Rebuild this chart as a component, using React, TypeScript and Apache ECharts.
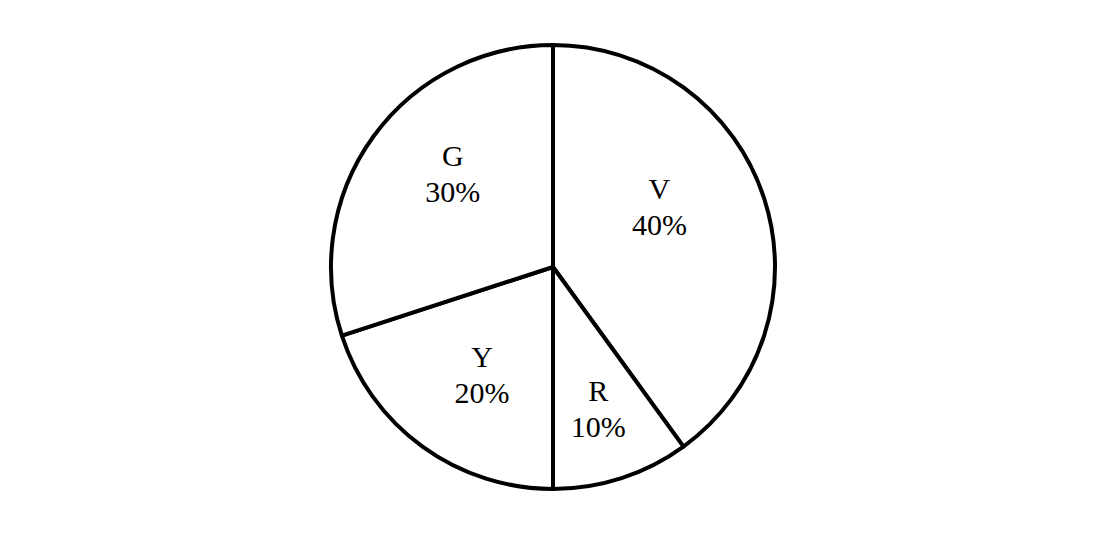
import React, { useEffect, useRef } from "react";
import * as echarts from "echarts";

const categories = ["V", "R", "Y", "G"];
const values = [40, 10, 20, 30];

// label nudges (px) relative to ECharts' inside label position
const labelNudges: [number, number][] = [
  [-2, -25],
  [10, 33],
  [-4, 15],
  [-8, -26],
];

export default function App() {
  const ref = useRef<HTMLDivElement>(null);
  useEffect(() => {
    if (!ref.current) return;
    const chart = echarts.init(ref.current, undefined, { renderer: "svg" });
    chart.setOption({
      animation: false,
      backgroundColor: "#ffffff",
      series: [
        {
          type: "pie",
          center: [553, 267],
          radius: 222,
          startAngle: 90,
          clockwise: true,
          silent: true,
          data: categories.map((c, i) => ({ name: c, value: values[i] })),
          itemStyle: {
            color: "#ffffff",
            borderColor: "#000000",
            borderWidth: 4,
          },
          label: {
            show: true,
            position: "inside",
            formatter: "{b}\n{c}%",
            fontFamily: "Liberation Serif",
            fontSize: 30,
            lineHeight: 36,
            color: "#000000",
            align: "center",
          },
          labelLine: { show: false },
          labelLayout: (p: any) => ({
            dx: labelNudges[p.dataIndex][0],
            dy: labelNudges[p.dataIndex][1],
          }),
          emphasis: { disabled: true },
        },
      ],
    });
    return () => chart.dispose();
  }, []);
  return (
    <div
      ref={ref}
      style={{ position: "fixed", left: 0, top: 0, width: 1105, height: 535 }}
    />
  );
}
